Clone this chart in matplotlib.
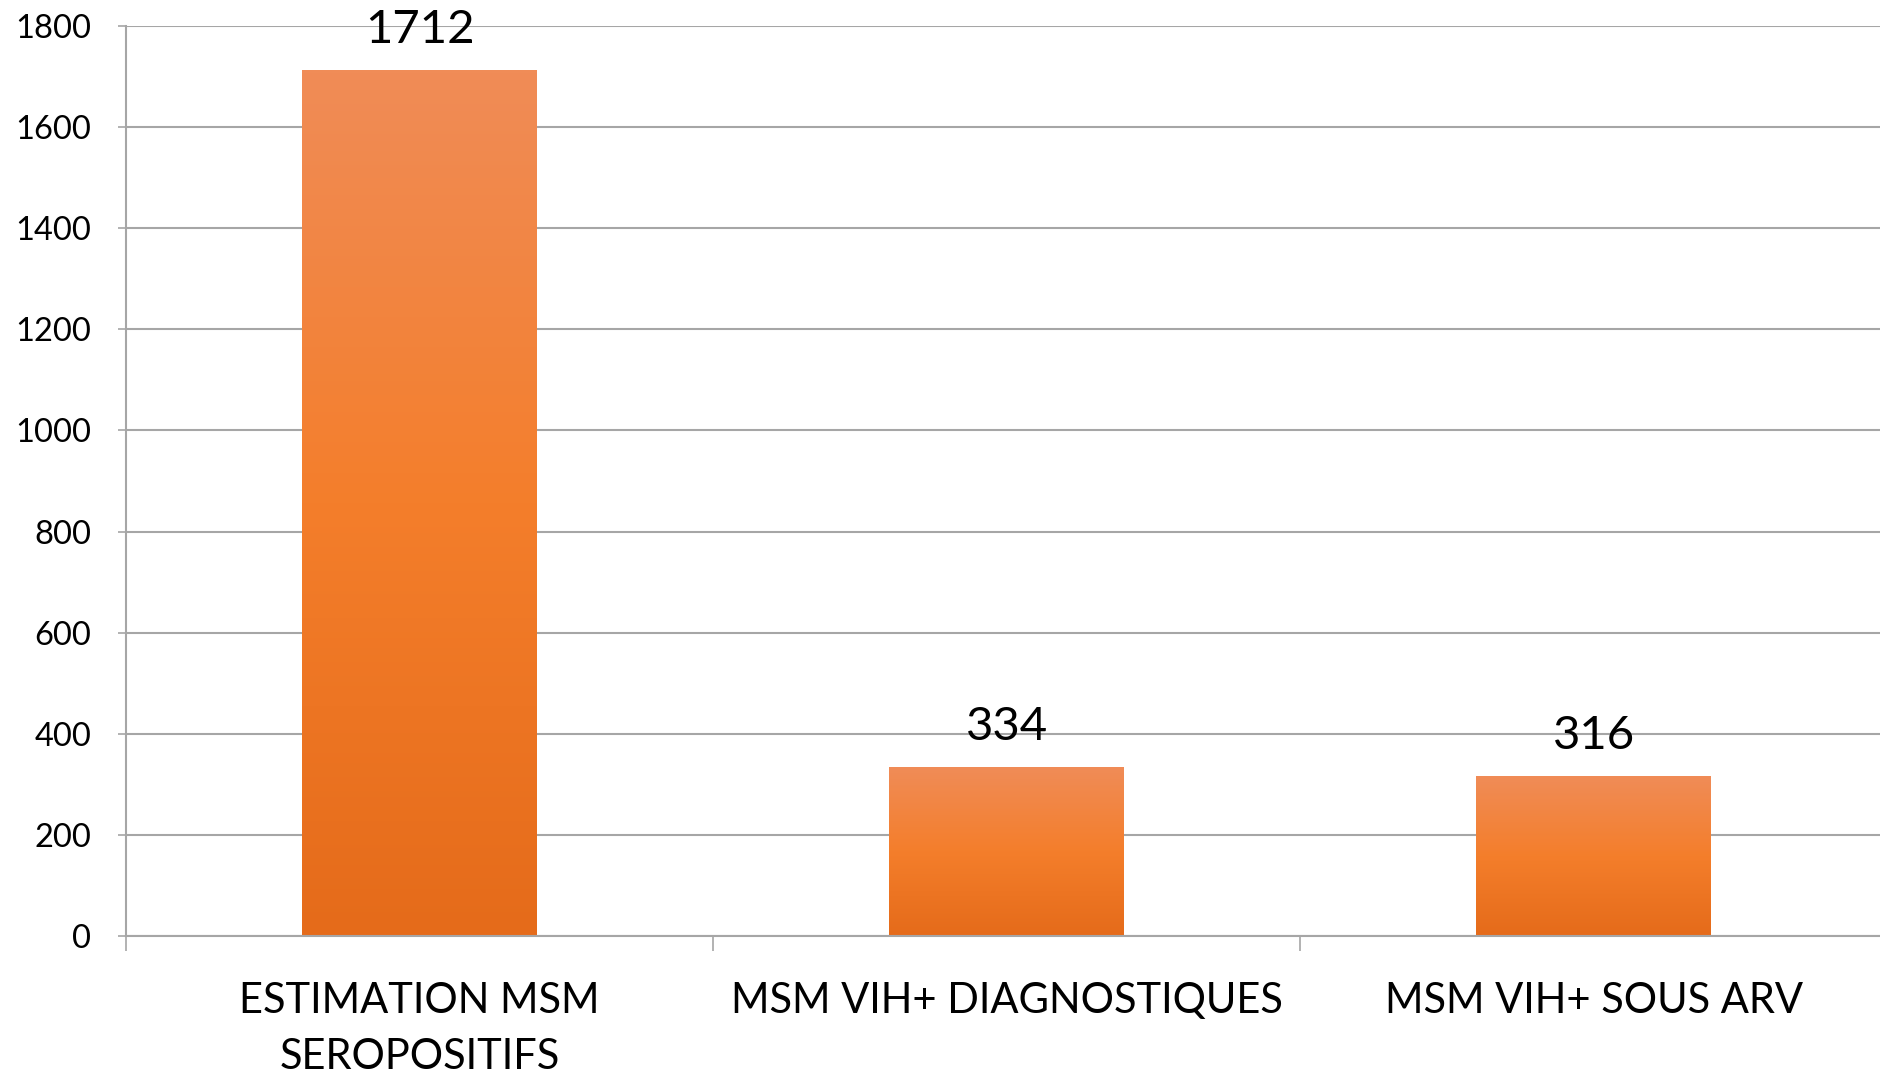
import numpy as np
import matplotlib.pyplot as plt
from matplotlib.colors import LinearSegmentedColormap

# Дані
categories = ['ESTIMATION MSM\nSEROPOSITIFS', 'MSM VIH+ DIAGNOSTIQUES', 'MSM VIH+ SOUS ARV']
values = [1712, 334, 316]
yticks = [0, 200, 400, 600, 800, 1000, 1200, 1400, 1600, 1800]

plt.rcParams['font.family'] = ['Lato', 'DejaVu Sans']

fig = plt.figure(figsize=(18.8, 10.77), dpi=100)
ax = fig.add_axes([0.067, 0.1309, 0.937, 0.845])

x = np.arange(len(categories))
bars = ax.bar(x, values, width=0.4, color='none', zorder=2)

# Градієнт заливки стовпців (згори світліший, знизу темніший)
cmap = LinearSegmentedColormap.from_list('orange_grad', ['#E56B1A', '#F47E2B', '#F08C57'])
grad = np.linspace(0, 1, 256).reshape(-1, 1)
for b in bars:
    x0, y0 = b.get_x(), b.get_y()
    w, h = b.get_width(), b.get_height()
    im = ax.imshow(grad, cmap=cmap, origin='lower', aspect='auto',
                   extent=[x0, x0 + w, y0, y0 + h], zorder=2)
    im.set_clip_path(b)

for xi, v in zip(x, values):
    ax.annotate(str(v), (xi, v), xytext=(0, 29), textcoords='offset points',
                ha='center', va='center', fontsize=34)

ax.set_xlim(-0.5, 2.5)
ax.set_ylim(0, 1800)
ax.set_yticks(yticks)
ax.set_yticklabels([str(t) for t in yticks], fontsize=23.5)
ax.set_xticks(x)
ax.set_xticklabels(categories, fontsize=30, linespacing=1.6)
ax.set_xticks([-0.5, 0.5, 1.5, 2.5], minor=True)

ax.tick_params(axis='x', which='major', length=0, pad=33)
ax.tick_params(axis='x', which='minor', length=11, width=1.2, color='#A6A6A6')
ax.tick_params(axis='y', length=6, width=1.2, color='#A6A6A6', pad=19)

ax.grid(axis='y', color='#A6A6A6', linewidth=1.5, zorder=0)
ax.set_axisbelow(True)
for s in ['top', 'right']:
    ax.spines[s].set_visible(False)
for s in ['left', 'bottom']:
    ax.spines[s].set_color('#A6A6A6')
    ax.spines[s].set_linewidth(1.5)

fig.savefig('out.png', dpi=100)
